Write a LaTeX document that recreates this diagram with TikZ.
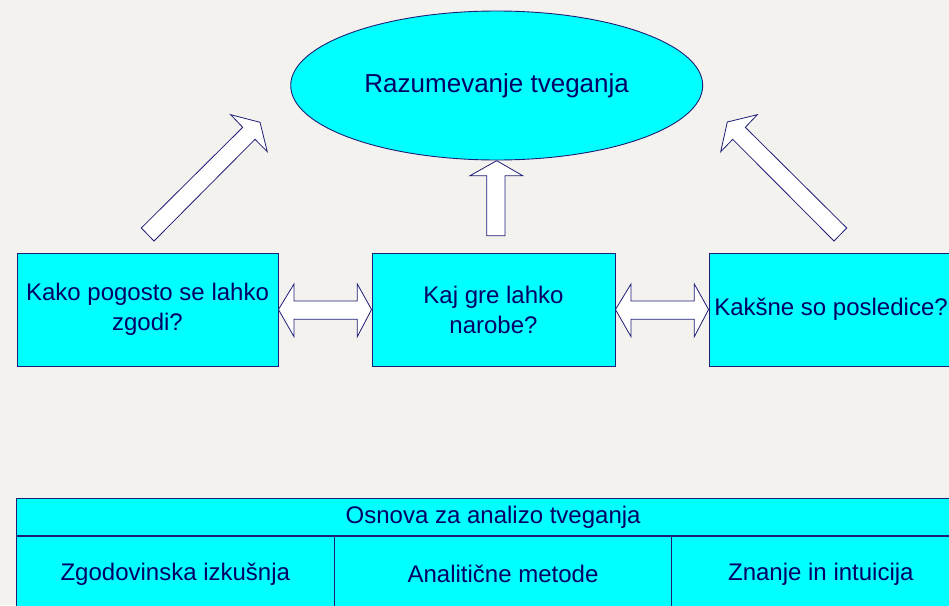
\documentclass[tikz,border=0pt]{standalone}
\usepackage{fontspec}
\setmainfont{Liberation Sans}
\usetikzlibrary{shapes.geometric}
\definecolor{bgc}{HTML}{F4F2EE}
\definecolor{cyanfill}{HTML}{00FFFF}
\definecolor{edgec}{HTML}{1E1E78}
\definecolor{txtc}{HTML}{000066}
\tikzset{
  boxnode/.style={draw=edgec, line width=0.9pt, fill=cyanfill, text=txtc, inner sep=0pt, align=center,
    font=\fontsize{24}{30}\selectfont},
  ellnode/.style={boxnode, ellipse, font=\fontsize{26}{30}\selectfont},
  blockarrow/.style={draw=edgec, line width=0.8pt, fill=white, line join=miter},
}
\begin{document}
\begin{tikzpicture}[x=1pt,y=-1pt]
\useasboundingbox (0,0) rectangle (949,605);
\fill[bgc] (0,0) rectangle (949,605);

% top ellipse
\node[ellnode, minimum width=412pt, minimum height=149pt] (goal) at (496.7,85.5) {Razumevanje tveganja};

% three boxes
\node[boxnode, minimum width=261pt, minimum height=113pt] (freq) at (147.5,309.5) {Kako pogosto se lahko\\zgodi?};
\node[boxnode, minimum width=243pt, minimum height=113pt] (what) at (493.5,309.5) {Kaj gre lahko\\narobe?};
\node[boxnode, minimum width=244pt, minimum height=113pt] (cons) at (831,309.5) {Kakšne so posledice?};

% bottom table
\node[boxnode, minimum width=953.7pt, minimum height=37.7pt] (base) at (493.15,516.85) {Osnova za analizo tveganja};
\node[boxnode, minimum width=318pt, minimum height=76pt] (hist) at (175.3,574) {Zgodovinska izkušnja};
\node[boxnode, minimum width=337.4pt, minimum height=76pt] (anal) at (503,574) {Analitične metode};
\node[boxnode, minimum width=298.3pt, minimum height=76pt] (intu) at (820.85,574) {Znanje in intuicija};

% block arrows
% left diagonal (freq -> goal)
\draw[blockarrow] (141.3,228) -- (242.7,127.3) -- (230.7,114.7) -- (260,122.3) -- (267.3,151.7) -- (255,139.3) -- (154,241) -- cycle;
% right diagonal (cons -> goal)
\draw[blockarrow] (846.7,228) -- (745.3,127.3) -- (757.3,114.7) -- (727.3,122) -- (720.7,151.7) -- (732.7,139.3) -- (834,241) -- cycle;
% up arrow (what -> goal)
\draw[blockarrow] (486.7,235.7) -- (486.7,175.7) -- (470,175.7) -- (496.7,160.7) -- (522.7,175.7) -- (505,175.7) -- (505,235.7) -- cycle;
% double arrow freq <-> what
\draw[blockarrow] (freq.east) -- (294,284) -- (294,301) -- (357.3,301) -- (357.3,284) -- (what.west) -- (357.3,336.7) -- (357.3,319.3) -- (294,319.3) -- (294,336.7) -- cycle;
% double arrow what <-> cons
\draw[blockarrow] (what.east) -- (631,284) -- (631,301) -- (694.3,301) -- (694.3,284) -- (cons.west) -- (694.3,336.7) -- (694.3,319.3) -- (631,319.3) -- (631,336.7) -- cycle;
\end{tikzpicture}
\end{document}
